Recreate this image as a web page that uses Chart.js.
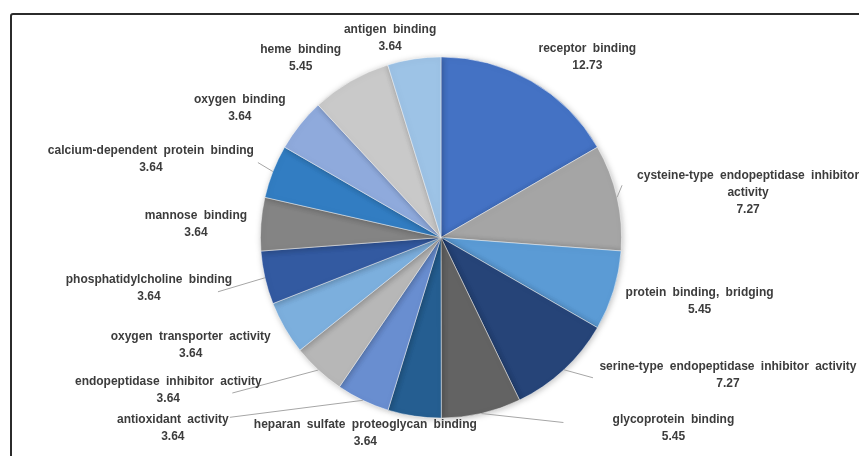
<!DOCTYPE html>
<html>
<head>
<meta charset="utf-8">
<script src="https://cdn.jsdelivr.net/npm/chart.js@4.4.0/dist/chart.umd.min.js"></script>
<style>
  html, body { margin: 0; padding: 0; background: #fff; overflow: hidden; }
  #wrap { position: relative; width: 859px; height: 456px; overflow: hidden; }
  #frame { position: absolute; left: 10px; top: 13px; width: 900px; height: 500px;
           border: 2px solid #2b2b2b; border-radius: 3px; box-sizing: border-box; }
  canvas { position: absolute; left: 0; top: 0; }
</style>
</head>
<body>
<div id="wrap">
  <div id="frame"></div>
  <canvas id="pieChart" width="859" height="456"></canvas>
</div>
<script>
// GO molecular function terms (percent), clockwise from 12 o'clock
const categories = [
  "receptor binding",
  "cysteine-type endopeptidase inhibitor activity",
  "protein binding, bridging",
  "serine-type endopeptidase inhibitor activity",
  "glycoprotein binding",
  "heparan sulfate proteoglycan binding",
  "antioxidant activity",
  "endopeptidase inhibitor activity",
  "oxygen transporter activity",
  "phosphatidylcholine binding",
  "mannose binding",
  "calcium-dependent protein binding",
  "oxygen binding",
  "heme binding",
  "antigen binding"
];
const values = [12.73, 7.27, 5.45, 7.27, 5.45, 3.64, 3.64, 3.64, 3.64, 3.64, 3.64, 3.64, 3.64, 5.45, 3.64];

const colors = [
  "#4472C4", "#A5A5A5", "#5B9BD5", "#264478", "#636363",
  "#255E91", "#698ED0", "#B7B7B7", "#7CAFDD", "#335AA1",
  "#848484", "#327DC2", "#8FAADC", "#C9C9C9", "#9DC3E6"
];

// label block offset from the slice's outer mid point (layout only)
const labelOffset = [
  [56, -24], [131, -5], [86, 11], [164, 5], [192, 15],
  [-49, 17], [-190, 28], [-150, 20], [-94, 17], [-116, 10],
  [-65, 0], [-122, -12], [-60, -17], [-50, -23], [-24, -21]
];
// leader line end, relative to the same mid point (null = no line)
const leaderEnd = [
  null, [5, -12], null, [29, 8], [82, 9],
  null, [-133, 17], [-86, 23], null, [-47, 14],
  null, [-15, -9], null, null, null
];
const labelBreaks = { 1: ["cysteine-type endopeptidase inhibitor", "activity"] };

const outsideLabels = {
  id: "outsideLabels",
  afterDatasetsDraw(chart) {
    const ctx = chart.ctx;
    const arcs = chart.getDatasetMeta(0).data;
    ctx.save();
    arcs.forEach((arc, i) => {
      const p = arc.getProps(["x", "y", "startAngle", "endAngle", "outerRadius"], true);
      const mid = (p.startAngle + p.endAngle) / 2;
      const ex = p.x + Math.cos(mid) * p.outerRadius;
      const ey = p.y + Math.sin(mid) * p.outerRadius;

      if (leaderEnd[i]) {
        ctx.strokeStyle = "#a6a6a6";
        ctx.lineWidth = 1;
        ctx.beginPath();
        ctx.moveTo(ex, ey);
        ctx.lineTo(ex + leaderEnd[i][0], ey + leaderEnd[i][1]);
        ctx.stroke();
      }

      const lines = (labelBreaks[i] || [categories[i]]).concat([values[i].toFixed(2)]);
      const lh = 17;
      const cx = ex + labelOffset[i][0];
      const cy = ey + labelOffset[i][1] - (lines.length - 1) * lh / 2;
      ctx.fillStyle = "#3c3c3c";
      ctx.font = "bold 12px 'Liberation Sans', Arial, sans-serif";
      ctx.textAlign = "center";
      ctx.textBaseline = "middle";
      if ("wordSpacing" in ctx) ctx.wordSpacing = "3px";
      lines.forEach((t, k) => ctx.fillText(t, cx, cy + k * lh));
    });
    ctx.restore();
  }
};

const pieShadow = {
  id: "pieShadow",
  beforeDatasetsDraw(chart) {
    const ctx = chart.ctx;
    ctx.save();
    ctx.shadowColor = "rgba(0,0,0,0.25)";
    ctx.shadowBlur = 6;
    ctx.shadowOffsetX = 1;
    ctx.shadowOffsetY = 1;
  },
  afterDatasetsDraw(chart) {
    chart.ctx.restore();
  }
};

new Chart(document.getElementById("pieChart").getContext("2d"), {
  type: "pie",
  data: {
    labels: categories,
    datasets: [{
      data: values,
      backgroundColor: colors,
      borderColor: "rgba(255,255,255,0.6)",
      borderWidth: 0.8
    }]
  },
  options: {
    responsive: false,
    animation: false,
    layout: { padding: { left: 23, right: 0, top: 56.5, bottom: 37.5 } },
    plugins: {
      legend: { display: false },
      title: { display: false },
      tooltip: { enabled: false }
    }
  },
  plugins: [pieShadow, outsideLabels]
});
</script>
</body>
</html>
